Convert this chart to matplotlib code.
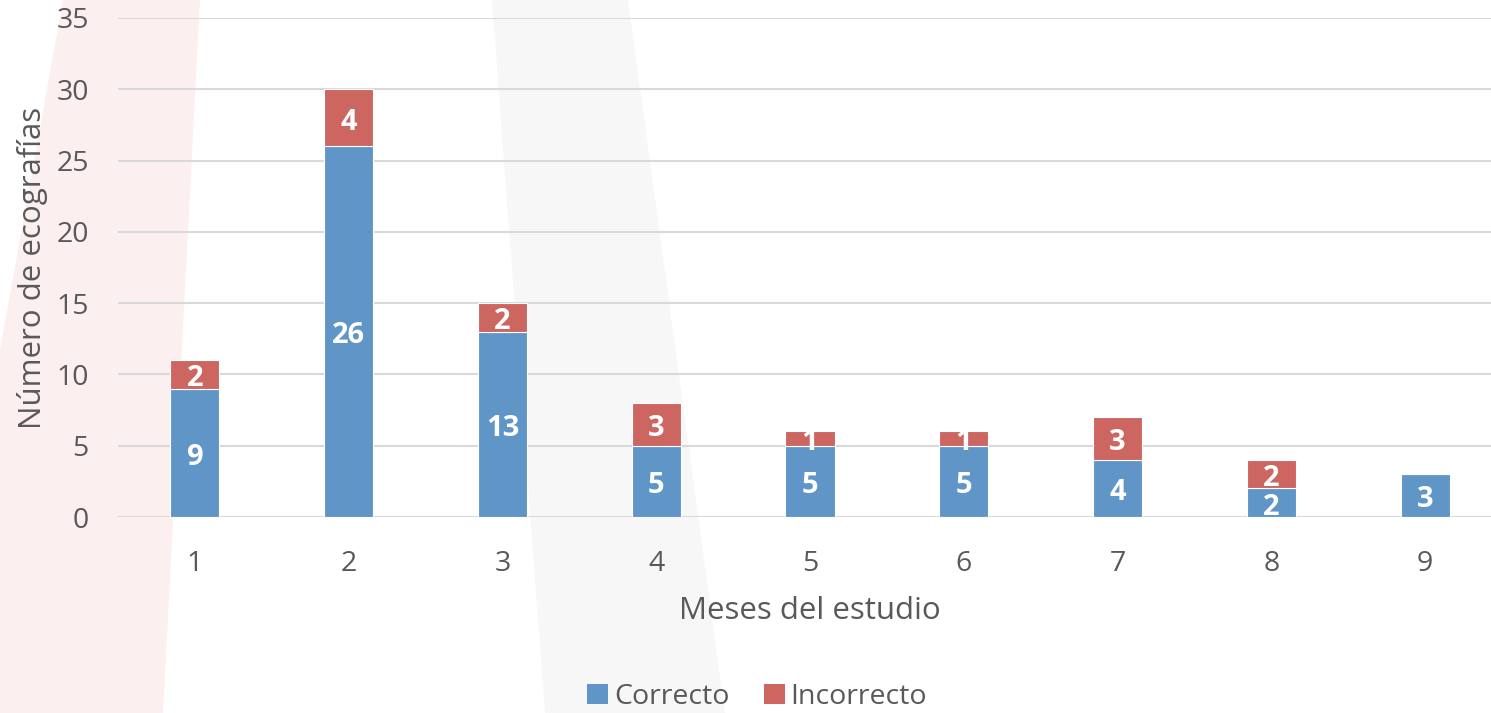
import matplotlib
matplotlib.use("Agg")
import matplotlib.pyplot as plt
from matplotlib.patches import Polygon, Patch

# data
months = [1, 2, 3, 4, 5, 6, 7, 8, 9]
correcto = [9, 26, 13, 5, 5, 5, 4, 2, 3]
incorrecto = [2, 4, 2, 3, 1, 1, 3, 2, 0]

BLUE = '#6095C7'
RED = '#CD6560'
TEXT = '#595959'
GRID = '#D9D9D9'

plt.rcParams['font.family'] = ['Open Sans', 'DejaVu Sans']

W, H = 1491, 713
fig = plt.figure(figsize=(W / 100, H / 100), dpi=100)


def px(points):
    return [(x / W, 1 - y / H) for x, y in points]


# faint watermark shapes behind the chart
fig.add_artist(Polygon(px([(63, 0), (200, 0), (163, H), (0, H), (0, 350)]),
                       closed=True, transform=fig.transFigure,
                       facecolor='#FCEFEF', edgecolor='none', zorder=-2))
fig.add_artist(Polygon(px([(492, 0), (628, 0), (725, H), (545, H)]),
                       closed=True, transform=fig.transFigure,
                       facecolor='#F7F7F7', edgecolor='none', zorder=-2))

ax = fig.add_axes([118 / W, 196 / H, 1384 / W, 499 / H])
ax.set_facecolor('none')

width = 0.32
b1 = ax.bar(months, correcto, width, color=BLUE, edgecolor='white',
            linewidth=0.8, zorder=3)
b2 = ax.bar(months, incorrecto, width, bottom=correcto, color=RED,
            edgecolor='white', linewidth=0.8, zorder=3)

# value labels in the middle of each segment
for bars, vals in ((b1, correcto), (b2, incorrecto)):
    for bar, v in zip(bars, vals):
        if v == 0:
            continue
        ax.text(bar.get_x() + bar.get_width() / 2,
                bar.get_y() + bar.get_height() / 2 - 0.3,
                str(v), ha='center', va='center', color='white',
                fontsize=21, fontweight='bold', zorder=4)

ax.set_xlim(0.5, 9.5)
ax.set_ylim(0, 35)
ax.set_yticks(range(0, 36, 5))
ax.set_xticks(months)
ax.yaxis.grid(True, color=GRID, linewidth=1.5, zorder=0)
ax.set_axisbelow(True)
for s in ax.spines.values():
    s.set_visible(False)
ax.tick_params(axis='both', length=0, labelsize=20.5, labelcolor=TEXT)
ax.tick_params(axis='x', pad=24)
ax.tick_params(axis='y', pad=21)

ax.set_xlabel('Meses del estudio', fontsize=22.5, color=TEXT, labelpad=13)
ax.set_ylabel('Número de ecografías', fontsize=22.5, color=TEXT, labelpad=6)

handles = [Patch(facecolor=BLUE, label='Correcto'),
           Patch(facecolor=RED, label='Incorrecto')]
fig.legend(handles=handles, loc='center', bbox_to_anchor=(757 / W, 1 - 697 / H),
           ncol=2, frameon=False, fontsize=20.5, labelcolor=TEXT,
           handlelength=0.75, handleheight=0.75, handletextpad=0.2,
           columnspacing=1.2)

fig.savefig('out.png', dpi=100)
